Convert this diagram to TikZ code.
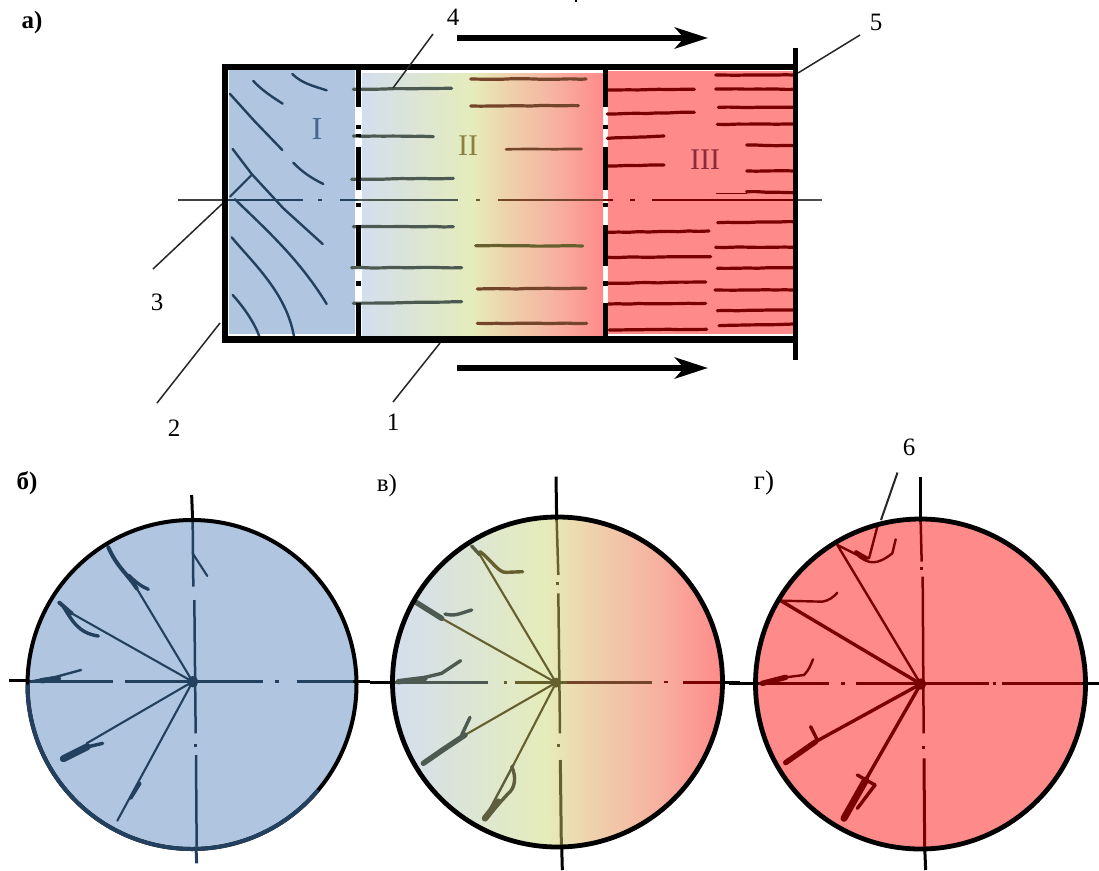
\documentclass[tikz,border=0pt]{standalone}
\usepackage{fontspec}
\setmainfont{Liberation Serif}
\usetikzlibrary{arrows.meta,decorations.pathmorphing}
\definecolor{fillI}{HTML}{AFC5E0}
\definecolor{fillIII}{HTML}{FF8A8A}
\definecolor{gA}{HTML}{D3DEEE}
\definecolor{gB}{HTML}{E5ECBB}
\definecolor{gC}{HTML}{EDD6AE}
\definecolor{gD}{HTML}{F7AE9F}
\definecolor{crI}{HTML}{24405F}
\definecolor{crIIa}{HTML}{4D5A52}
\definecolor{crIIb}{HTML}{66602F}
\definecolor{crIIc}{HTML}{74452A}
\definecolor{crIII}{HTML}{7A0000}
\definecolor{zoI}{HTML}{45688F}
\definecolor{zoII}{HTML}{8A8040}
\definecolor{zoIII}{HTML}{8A2A3A}
\pgfdeclarehorizontalshading{flowgrad}{100bp}{color(0bp)=(gA); color(25bp)=(gA); color(48bp)=(gB); color(54bp)=(gC); color(66bp)=(gD); color(75bp)=(fillIII); color(100bp)=(fillIII)}
\tikzset{
  wall/.style={line width=6.2pt,draw=black},
  thickwall/.style={line width=5pt,draw=black},
  wob/.style={decorate,decoration={random steps,segment length=10pt,amplitude=.3pt},rounded corners=1pt},
  crk/.style={line width=2.4pt,line cap=round,line join=round},
  crkthin/.style={line width=2.1pt,line cap=round,line join=round},
  crkthick/.style={line width=3.4pt,line cap=round,line join=round},
  crkfat/.style={line width=5.4pt,line cap=round,line join=round},
  hline/.style={line width=3.2pt,line cap=round,wob},
  axisl/.style={line width=1.8pt},
  axism/.style={line width=2.5pt},
  leader/.style={line width=1.5pt,draw=black!85},
  flow/.style={line width=6.8pt,-{Stealth[length=33pt,width=21pt,inset=9pt]}},
  num/.style={font=\fontsize{25}{25}\selectfont,inner sep=0pt,text=black},
  tag/.style={font=\fontsize{25}{25}\selectfont\bfseries,inner sep=0pt,text=black},
  tagl/.style={font=\fontsize{25}{25}\selectfont,inner sep=0pt,text=black},
  zone/.style={font=\fontsize{32}{32}\selectfont,inner sep=0pt},
  z1/.style={shift={(140,0)},x=.33333pt,y=-.33333pt},
  z2/.style={shift={(460,0)},x=.33333pt,y=-.33333pt},
  z3/.style={shift={(0,460)},x=.33333pt,y=-.33333pt},
  z4/.style={shift={(370,460)},x=.33333pt,y=-.33333pt},
  z5/.style={shift={(729,430)},x=.33333pt,y=-.33333pt}
}
\pgfmathsetseed{7}
\begin{document}
\begin{tikzpicture}[x=1pt,y=-1pt]
\useasboundingbox (0,0) rectangle (1099,870);
\fill[white] (0,0) rectangle (1099,870);
% tick at top edge
\draw[line width=1.3pt] (576,0) -- (576,2);

% zone fills
\fill[fillI] (229,70) rectangle (355,334);
\shade[shading=flowgrad] (362,73) rectangle (603,335);
\fill[fillIII] (608,71) rectangle (794,334);

% zone I cracks
\begin{scope}[z1,crI]
\draw[crk] (457,222) .. controls (485,250) and (520,258) .. (560,271);
\draw[crk] (340,243) .. controls (365,270) and (395,290) .. (428,311);
\draw[crk] (270,282) -- (345,365) -- (427,450);
\draw[crk] (278,447) -- (335,522) -- (430,625) -- (548,732);
\draw[crkthin] (270,590) -- (335,525);
\draw[crk] (460,488) .. controls (485,515) and (515,535) .. (550,552);
\draw[crk] (285,598) .. controls (380,690) and (480,780) .. (560,912);
\draw[crk] (275,712) .. controls (340,790) and (440,880) .. (462,1010);
\draw[crk] (278,885) .. controls (310,920) and (345,970) .. (358,1010);
\end{scope}

% zone II cracks
\begin{scope}[z1,crIIa]
\draw[hline] (640,268) -- (935,265);
\draw[hline] (640,408) -- (880,410);
\draw[hline] (635,538) -- (940,535);
\draw[hline] (640,680) -- (940,680);
\draw[hline] (635,803) -- (965,803);
\draw[hline] (640,910) -- (965,905);
\end{scope}
\begin{scope}[z2,crIIb]
\draw[hline,crIIc] (32,237) -- (378,237);
\draw[hline,crIIc] (32,318) -- (355,317);
\draw[hline,line width=2.6pt,crIIc] (138,448) -- (365,447);
\draw[hline,crIIb] (47,737) -- (368,738);
\draw[hline,crIIc] (52,867) -- (378,865);
\draw[hline,crIIc] (52,970) -- (380,970);
\end{scope}
% zone III cracks
\begin{scope}[z2,crIII]
\foreach \a/\b/\c/\d in {445/270/703/268,442/342/703/337,442/415/612/408,442/498/612/495,445/697/747/693,445/772/752/770,445/850/737/846,445/912/737/910,448/990/740/988,
 767/225/1000/225,767/267/1000/268,775/322/1000/322,772/373/1000/372,860/435/1000/437,860/513/1000/513,860/575/1000/578,773/668/1000/665,767/742/1000/742,772/805/1000/803,765/870/1000/870,772/932/1000/930,777/977/1000/972}
  \draw[hline] (\a,\b) -- (\c,\d);
\draw[line width=.9pt] (767,580) -- (860,580);
\end{scope}

% centre line of part a
\draw[axisl,black!75] (178,200) -- (228,200);
\draw[axisl,crI] (228,200) -- (303,200);
\draw[axisl,crI] (318,200) -- (322,200);
\draw[axisl,crI] (340,200) -- (358,200);
\draw[axisl,crIIa] (358,200) -- (458,200);
\draw[axisl,crIIb] (476,200) -- (480,200);
\draw[axisl,crIIc] (498,200) -- (603,200);
\draw[axisl,crIII] (603,200) -- (613,200);
\draw[axisl,crIII,line width=2.4pt] (630,200) -- (635,200);
\draw[axisl,crIII] (652,200) -- (795,200);
\draw[axisl,black!70] (795,200) -- (822,200);

% housing
\draw[wall] (222,67) -- (795,67);
\draw[wall] (222,339.5) -- (795,339.5);
\draw[wall] (225,64) -- (225,342.5);
\draw[thickwall,line width=5.4pt] (795.5,48) -- (795.5,360);
\foreach \x in {358,605}{
  \draw[thickwall] (\x,67) -- (\x,107);
  \draw[thickwall] (\x,124.5) -- (\x,129);
  \draw[thickwall] (\x,147) -- (\x,190);
  \draw[thickwall] (\x,202.5) -- (\x,207);
  \draw[thickwall] (\x,225) -- (\x,266);
  \draw[thickwall] (\x,281) -- (\x,285.5);
  \draw[thickwall] (\x,303) -- (\x,339);
}
\draw[thickwall] (358,134) -- (358,137);

% flow arrows
\coordinate (fa1) at (457,38);
\coordinate (fa2) at (708,38);
\coordinate (fb1) at (457,368);
\coordinate (fb2) at (708,368);
\draw[flow] (fa1) -- (fa2);
\draw[flow] (fb1) -- (fb2);

% zone labels
\node[zone,text=zoI] (zI) at (317,129) {I};
\node[zone,text=zoII,font=\fontsize{30}{30}\selectfont] (zII) at (468,146) {II};
\node[zone,text=zoIII,font=\fontsize{30}{30}\selectfont] (zIII) at (705,160) {III};

% reference numbers and leaders
\node[tag] (ta) at (32,22) {а)};
\node[num] (n5) at (876,22) {5};
\node[num] (n4) at (453,17) {4};
\node[num] (n3) at (157,302) {3};
\node[num] (n2) at (174,428) {2};
\node[num] (n1) at (393,422) {1};
\coordinate (s5) at (860,35);  \coordinate (e5) at (798,73);
\coordinate (s4) at (433,34);  \coordinate (e4) at (393,88);
\coordinate (s3) at (153,269); \coordinate (e3) at (222,204);
\coordinate (s2) at (157,403); \coordinate (e2) at (220,323);
\coordinate (s1) at (393,402); \coordinate (e1) at (440,343);
\draw[leader] (s5) -- (e5);
\draw[leader] (s4) -- (e4);
\draw[leader] (s3) -- (e3);
\draw[leader] (s2) -- (e2);
\draw[leader] (s1) -- (e1);

% ===== disc b =====
\fill[fillI] (192,684.5) circle (164);
\begin{scope}[z3,crI]
\draw[axism] (85,665) -- (340,665);
\draw[axism] (375,665) -- (790,665);
\draw[axism] (825,665) -- (838,665);
\draw[axism] (890,665) -- (1060,665);
\draw[axism] (578,185) -- (580,380);
\draw[axism] (583,420) -- (587,820);
\draw[axism] (587,852) -- (587,862);
\draw[axism] (588,885) -- (590,1160);
\fill (578,665) circle (17);
\draw[crkthin] (578,665) -- (410,385);
\draw[crkthick,line width=4pt] (410,385) .. controls (385,345) and (350,320) .. (325,262);
\draw[crkthick] (385,345) .. controls (405,365) and (425,380) .. (445,388);
\draw[crkthin] (578,280) -- (622,348);
\draw[crkthin] (578,665) -- (215,460);
\draw[crkthick,line width=4pt] (215,460) -- (178,428);
\draw[crkthick] (190,440) .. controls (215,480) and (235,520) .. (295,528);
\draw[crk] (90,665) -- (170,650) -- (243,630);
\draw[crkfat] (125,662) -- (175,656);
\draw[crkthin] (578,665) -- (260,850);
\draw[crkfat,line width=7pt] (262,860) -- (190,896);
\draw[crkthick] (240,866) -- (308,850);
\draw[crkthin] (578,665) -- (352,1082);
\draw[crkthick] (420,970) -- (392,1015);
\end{scope}
\draw[line width=4pt] (192,684.5) circle (164.5);
\draw[line width=4pt,crI] (27.5,684.5) arc[start angle=180,end angle=40,radius=164.5];
\begin{scope}[z3]
\draw[axism,line width=3pt] (28,662) -- (85,662);
\draw[axism,line width=2.6pt] (1060,665) -- (1110,665);
\draw[axism,line width=3pt] (575,105) -- (578,185);
\draw[axism,line width=3pt,crI] (588,1160) -- (590,1210);
\end{scope}

% ===== disc v =====
\shade[shading=flowgrad] (557.5,682) circle (165);
\begin{scope}[z4]
\draw[axism,crIIa] (70,668) -- (355,668);
\draw[axism,crIIb] (402,668) -- (412,668);
\draw[axism,crIIb] (435,668) -- (590,668);
\draw[axism,crIIc] (590,668) -- (845,668);
\draw[axism,crIII!80!crIIc] (883,666) -- (893,666);
\draw[axism,crIII,line width=3pt] (940,668) -- (1050,668);
\draw[axism,crIIb] (560,180) -- (565,345);
\draw[axism,crIIb] (562,365) -- (562,374);
\draw[axism,crIIb] (565,400) -- (570,820);
\draw[axism,crIIb] (565,853) -- (565,862);
\draw[axism,crIIb,line width=3pt] (571,900) -- (574,1155);
\fill[crIIb] (558,668) circle (15);
\draw[crkthin,crIIb] (558,668) -- (330,285);
\draw[crkthick,crIIa!60!crIIb] (330,285) -- (305,258);
\draw[crkthick,crIIb] (330,275) .. controls (365,300) and (385,340) .. (410,337) -- (458,335);
\draw[crkthin,crIIb] (558,668) -- (215,475);
\draw[crkfat,crIIa] (215,475) -- (140,428);
\draw[crkthick,crIIa] (225,462) .. controls (255,470) and (270,460) .. (305,450);
\draw[crkfat,crIIa] (85,665) -- (165,655);
\draw[crkthick,crIIa] (165,652) -- (215,640) -- (272,602);
\draw[crkthin,crIIb] (558,668) -- (285,825);
\draw[crkfat,crIIa] (285,825) -- (225,865) -- (160,910);
\draw[crkthick,crIIa] (275,825) -- (300,772);
\draw[crkthin,crIIb] (558,668) -- (430,915);
\draw[crk,crIIb!60!crIIa] (430,915) -- (345,1075);
\draw[crkthick,crIIb!60!crIIa] (425,920) .. controls (440,950) and (435,985) .. (415,1000) -- (360,1060);
\draw[crkfat,line width=6.5pt,crIIb!60!crIIa] (345,1075) -- (385,1025);
\end{scope}
\draw[line width=4.8pt] (557.5,682) circle (165);
\begin{scope}[z4]
\draw[axism,line width=2.8pt] (0,668) -- (70,668);
\draw[axism,line width=2.8pt] (1050,668) -- (1110,668);
\draw[axism,line width=3pt] (558,50) -- (560,180);
\draw[axism,line width=3pt] (575,1155) -- (577,1230);
\end{scope}

% ===== disc g =====
\fill[fillIII] (920.5,684) circle (165);
\begin{scope}[z5,crIII]
\draw[axism] (90,760) -- (300,760);
\draw[axism] (335,760) -- (348,760);
\draw[axism] (380,760) -- (780,760);
\draw[axism] (792,760) -- (802,760);
\draw[axism] (820,760) -- (1060,760);
\draw[axism] (575,275) -- (578,395);
\draw[axism] (578,410) -- (578,420);
\draw[axism] (581,440) -- (584,910);
\draw[axism] (584,948) -- (584,958);
\draw[axism,line width=3pt] (585,985) -- (587,1250);
\fill (575,762) circle (17);
\draw[crk] (575,762) -- (325,345);
\draw[crk] (325,345) -- (385,375) .. controls (420,405) and (445,405) .. (490,370) -- (500,328);
\draw[crk] (445,290) -- (420,385);
\draw[crkthick] (380,365) -- (415,385);
\draw[crkthick] (575,762) -- (155,512);
\draw[crk] (155,512) -- (280,515) .. controls (300,512) and (315,500) .. (325,488);
\draw[crkfat] (100,760) -- (170,742);
\draw[crk] (170,742) -- (225,735) .. controls (240,720) and (245,705) .. (252,688);
\draw[crkthick] (575,762) -- (260,935);
\draw[crkfat] (260,935) -- (170,998);
\draw[crkthick] (265,930) -- (245,890);
\draw[crkthick] (575,762) -- (410,1050);
\draw[crkfat,line width=7pt] (410,1050) -- (345,1165);
\draw[crkthick] (385,1035) -- (438,1065);
\draw[crkthick] (438,1065) -- (385,1135);
\end{scope}
\draw[line width=4.8pt] (920.5,684) circle (165);
\begin{scope}[z5]
\draw[axism,line width=3pt] (0,760) -- (90,760);
\draw[axism,line width=3pt] (1060,760) -- (1110,760);
\draw[axism,line width=3pt] (575,140) -- (575,275);
\draw[axism,line width=3pt] (587,1250) -- (590,1320);
\end{scope}

% labels of lower row
\node[tag] (tb) at (27,483) {б)};
\node[tagl] (tv) at (387,485) {в)};
\node[tagl,font=\fontsize{27}{27}\selectfont] (tg) at (764,483) {г)};
\node[num] (n6) at (909,447) {6};
\coordinate (s6) at (897.5,472.5);
\coordinate (e6) at (881,520);
\draw[leader,line width=2pt] (s6) -- (e6);
\end{tikzpicture}
\end{document}
